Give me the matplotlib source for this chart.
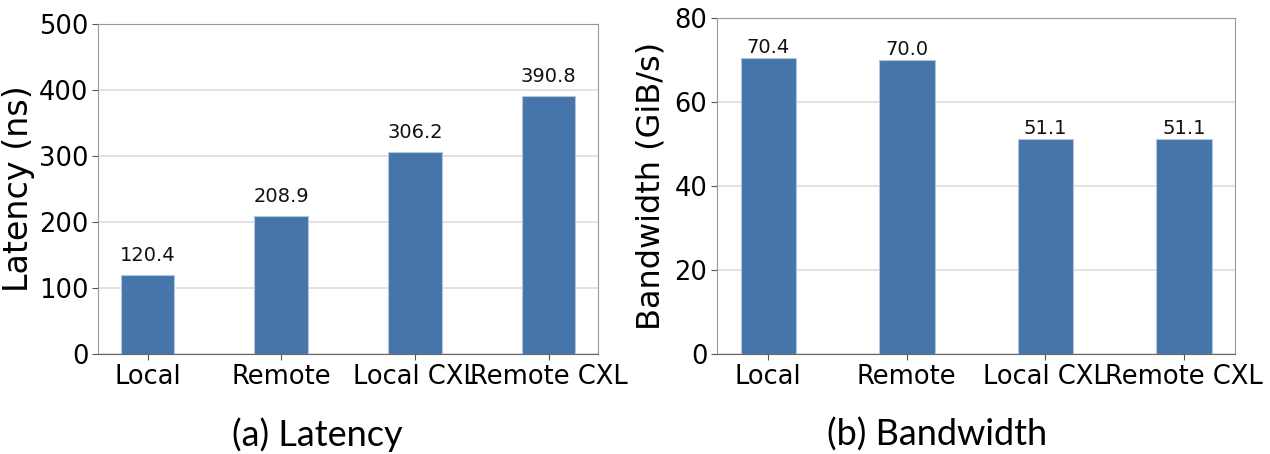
import numpy as np
import matplotlib
matplotlib.use("Agg")
import matplotlib.pyplot as plt

categories = ["Local", "Remote", "Local CXL", "Remote CXL"]
latency = [120.4, 208.9, 306.2, 390.8]
bandwidth = [70.4, 70.0, 51.1, 51.1]

bar_color = "#4575a9"
edge_color = "#b5c6dc"

fig = plt.figure(figsize=(12.7, 4.54), dpi=100)
ax1 = fig.add_axes([0.0772, 0.2203, 0.3937, 0.7269])
ax2 = fig.add_axes([0.5646, 0.2203, 0.4079, 0.7401])


def draw(ax, vals, ylabel, ymax, step, label_size, gap, label_x):
    x = np.arange(len(categories))
    ax.bar(x, vals, width=0.4, color=bar_color, edgecolor=edge_color,
           linewidth=0.8, zorder=3)
    for xi, v in zip(x, vals):
        ax.annotate("{:.1f}".format(v), (xi, v), xytext=(0, gap),
                    textcoords="offset points", ha="center", va="bottom",
                    fontsize=14, color="#111111")
    ax.set_ylim(0, ymax)
    ax.set_yticks(np.arange(0, ymax + 1, step))
    ax.set_xticks(x)
    ax.set_xticklabels(categories)
    ax.tick_params(axis="both", labelsize=18.5, length=4, pad=3, color="#555555")
    ax.set_ylabel(ylabel, fontsize=label_size, va="center")
    ax.yaxis.set_label_coords(label_x, 0.5)
    ax.yaxis.grid(True, color="#dddddd", linewidth=1.2, zorder=0)
    ax.set_axisbelow(True)
    for s in ax.spines.values():
        s.set_color("#999999")
    ax.spines["bottom"].set_color("#666666")


draw(ax1, latency, "Latency (ns)", 500, 100, 24, 7, -0.16)
draw(ax2, bandwidth, "Bandwidth (GiB/s)", 80, 20, 23, 1, -0.128)

fig.text(317 / 1270, 0.042, "(a) Latency", ha="center", va="center",
         fontsize=26, family="Lato")
fig.text(937 / 1270, 0.042, "(b) Bandwidth", ha="center", va="center",
         fontsize=26, family="Lato")

fig.savefig("out.png", dpi=100)
